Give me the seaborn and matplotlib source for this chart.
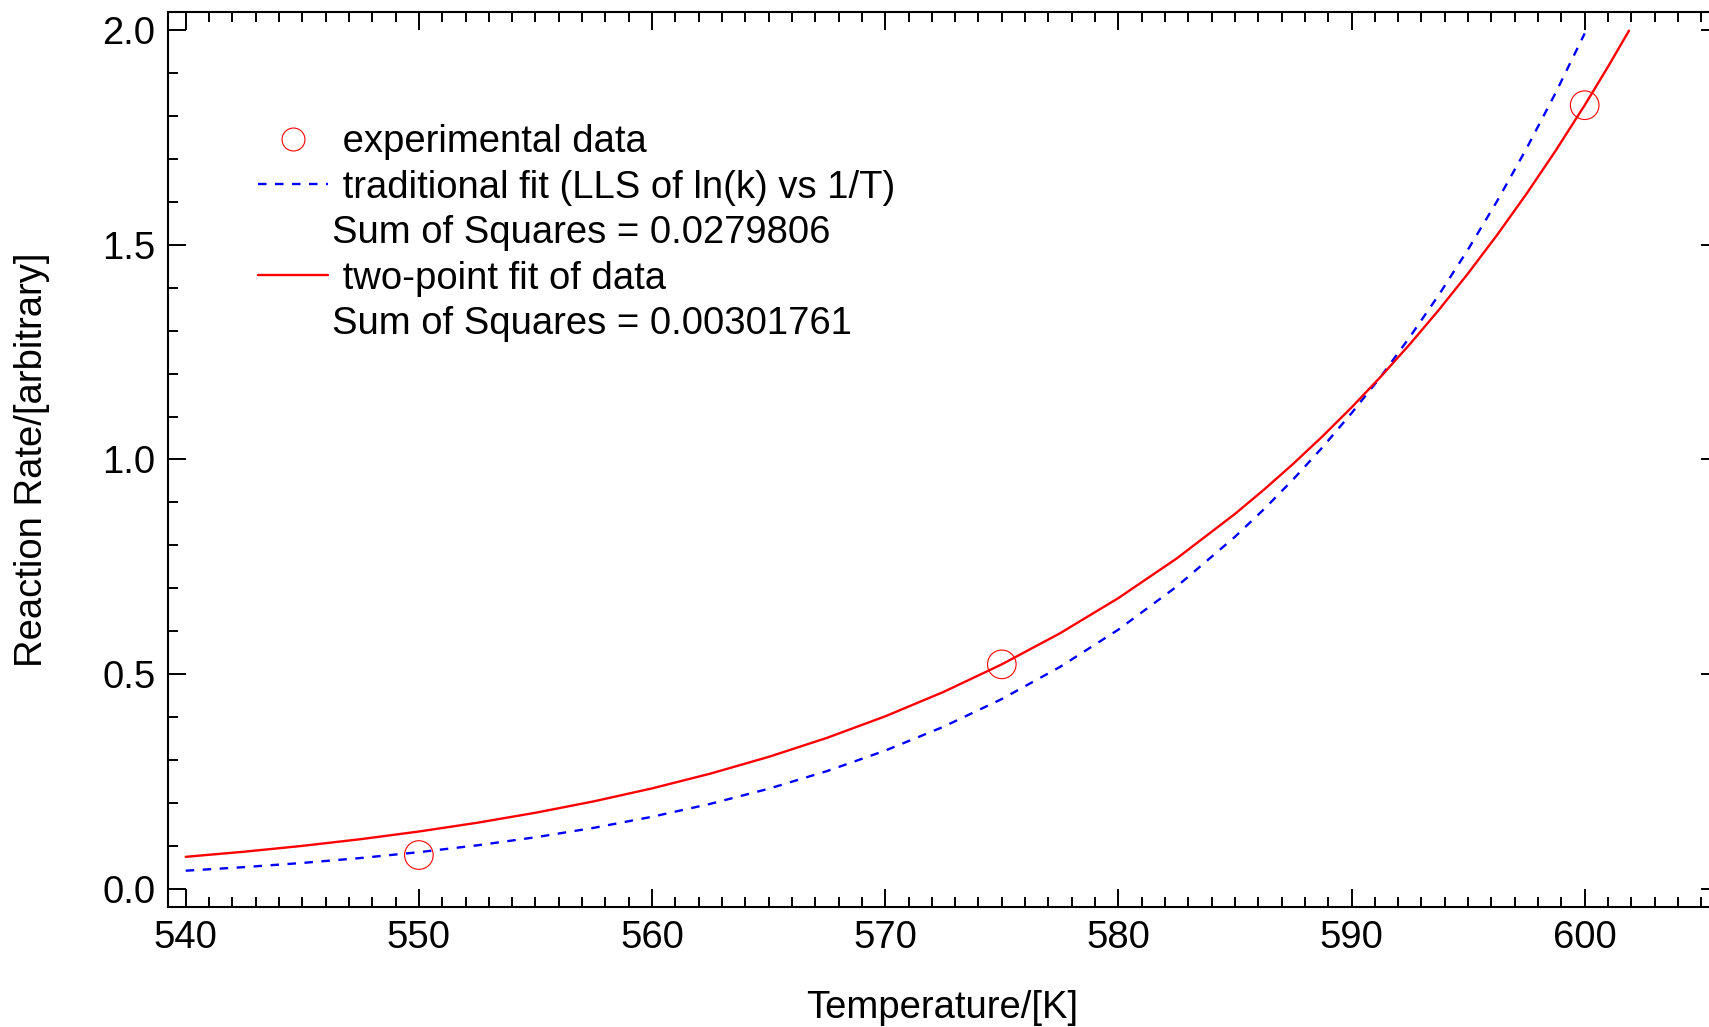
import numpy as np
import pandas as pd
import matplotlib
matplotlib.use("Agg")
import matplotlib.pyplot as plt
from matplotlib.lines import Line2D
from matplotlib.ticker import MultipleLocator
import seaborn as sns

# Measured reaction rates
exp_T = [550, 575, 600]
exp_k = [0.079, 0.523, 1.825]

# Traditional fit: linear least squares of ln(k) against 1/T
trad_T = [540, 542.5, 545, 547.5, 550, 552.5, 555, 557.5, 560, 562.5, 565,
          567.5, 570, 572.5, 575, 577.5, 580, 582.5, 585, 586.25, 587.5,
          588.75, 590, 591.25, 592.5, 593.75, 595, 596.25, 597.5, 598.75,
          600]
trad_k = [0.04255, 0.05080, 0.06056, 0.07206, 0.08563, 0.10158, 0.12033,
          0.14232, 0.16807, 0.19820, 0.23335, 0.27439, 0.32216, 0.37772,
          0.44228, 0.51711, 0.60387, 0.70412, 0.82004, 0.88453, 0.95380,
          1.02819, 1.10794, 1.19249, 1.28531, 1.38376, 1.48929, 1.60240,
          1.72366, 1.85336, 1.99219]

# Two-point fit through the 575 K and 600 K measurements
two_T = [540, 542.5, 545, 547.5, 550, 552.5, 555, 557.5, 560, 562.5, 565,
         567.5, 570, 572.5, 575, 577.5, 580, 582.5, 585, 586.25, 587.5,
         588.75, 590, 591.25, 592.5, 593.75, 595, 596.25, 597.5, 598.75,
         600, 601.0, 601.9]
two_k = [0.07484, 0.08671, 0.10032, 0.11591, 0.13376, 0.15415, 0.17743,
         0.20397, 0.23417, 0.26853, 0.30755, 0.35180, 0.40200, 0.45878,
         0.52300, 0.59547, 0.67733, 0.76950, 0.87328, 0.93002, 0.99005,
         1.05369, 1.12120, 1.19267, 1.26845, 1.34864, 1.43346, 1.52333,
         1.61832, 1.71875, 1.82500, 1.91458, 1.99850]

legend_labels = [" experimental data",
                 " traditional fit (LLS of ln(k) vs 1/T)",
                 "Sum of Squares = 0.0279806",
                 " two-point fit of data",
                 "Sum of Squares = 0.00301761"]

x_ticks = [540, 550, 560, 570, 580, 590, 600]
y_ticks = [0.0, 0.5, 1.0, 1.5, 2.0]

sns.set_style("ticks")
plt.rcParams["font.family"] = ["Liberation Sans", "DejaVu Sans"]
plt.rcParams["text.color"] = "black"
plt.rcParams["axes.labelcolor"] = "black"
plt.rcParams["xtick.color"] = "black"
plt.rcParams["ytick.color"] = "black"
FS = 27.5

fig = plt.figure(figsize=(17.09, 10.27), dpi=100)
ax = fig.add_axes([168 / 1709, 1 - 907 / 1027, 1551 / 1709, 895 / 1027])

trad_df = pd.DataFrame({"T": trad_T, "k": trad_k})
two_df = pd.DataFrame({"T": two_T, "k": two_k})
exp_df = pd.DataFrame({"T": exp_T, "k": exp_k})

sns.lineplot(data=trad_df, x="T", y="k", ax=ax, color="#0000ff",
             linewidth=1.7, sort=False, estimator=None)
trad_line = ax.lines[-1]
trad_line.set_dashes((3.6, 3.6))
sns.lineplot(data=two_df, x="T", y="k", ax=ax, color="#ff0000",
             linewidth=1.7, sort=False, estimator=None)
sns.scatterplot(data=exp_df, x="T", y="k", ax=ax, marker="o", s=20.6 ** 2,
                facecolor="none", edgecolor="#ff0000", linewidth=0.8,
                zorder=5)

ax.set_xlim(539.24, 605.76)
ax.set_ylim(-0.042, 2.042)
ax.set_xticks(x_ticks)
ax.set_xticklabels([str(v) for v in x_ticks])
ax.set_yticks(y_ticks)
ax.set_yticklabels([f"{v:.1f}" for v in y_ticks])
ax.xaxis.set_minor_locator(MultipleLocator(1))
ax.yaxis.set_minor_locator(MultipleLocator(0.1))
ax.tick_params(which="both", direction="in", top=True, right=True,
               width=1.4, color="black", labelcolor="black")
ax.tick_params(which="major", length=13, pad=9, labelsize=FS)
ax.tick_params(which="minor", length=7)
for sp in ax.spines.values():
    sp.set_linewidth(1.5)
    sp.set_color("black")

ax.set_xlabel("Temperature/[K]", fontsize=FS, ha="center", va="center",
              color="black")
ax.set_ylabel("Reaction Rate/[arbitrary]", fontsize=FS, ha="center",
              va="center", color="black")
ax.xaxis.set_label_coords(0.499, -0.113)
ax.yaxis.set_label_coords(-0.088, 0.5)

blank = Line2D([], [], linestyle="none", marker=None)
handles = [
    Line2D([], [], linestyle="none", marker="o", markersize=16.5,
           markerfacecolor="none", markeredgecolor="#ff0000",
           markeredgewidth=0.8),
    Line2D([], [], color="#0000ff", linewidth=1.7, dashes=(3.6, 3.6)),
    blank,
    Line2D([], [], color="#ff0000", linewidth=1.7),
    blank,
]
leg = ax.legend(handles, legend_labels, loc="upper left",
                bbox_to_anchor=(90 / 1551, 1 - 112 / 895), frameon=False,
                fontsize=FS, handlelength=1.84, handletextpad=0.1,
                labelspacing=0.25, borderpad=0, borderaxespad=0)
for t in leg.get_texts():
    t.set_color("black")

fig.savefig("out.png", dpi=100)
